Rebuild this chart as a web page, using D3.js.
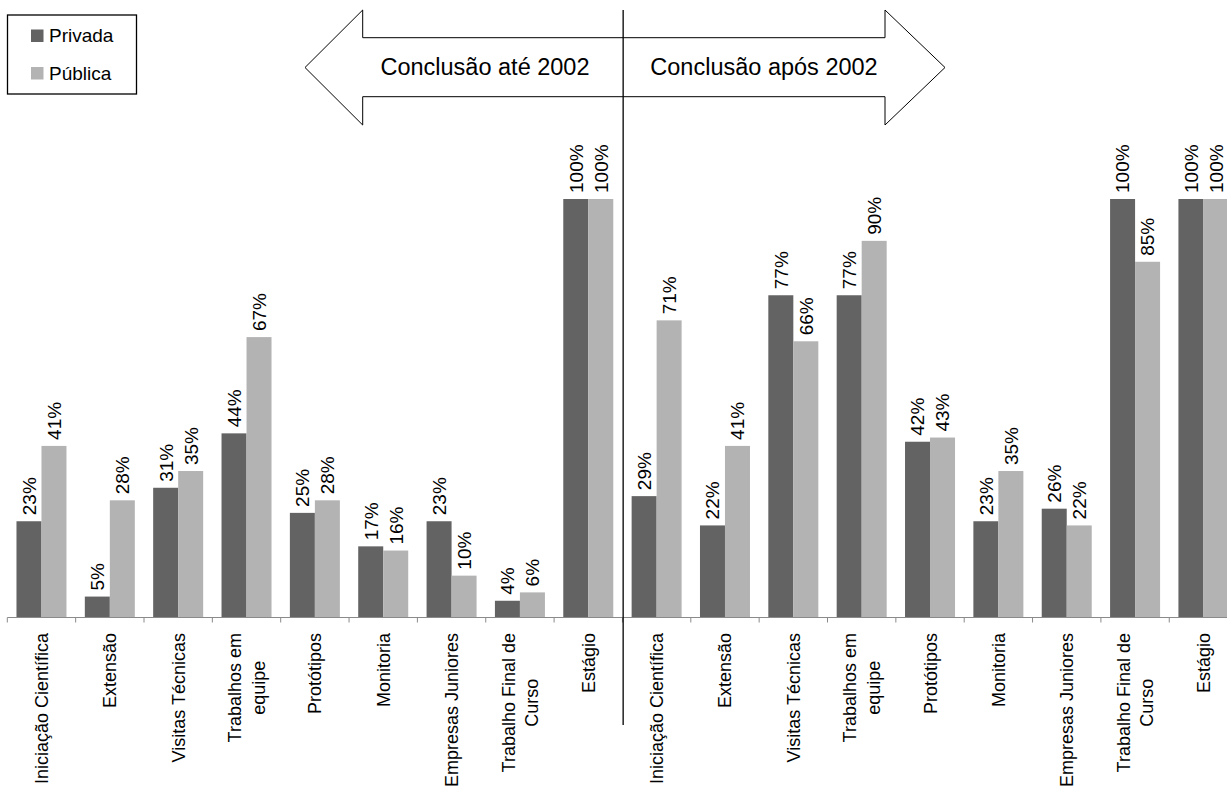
<!DOCTYPE html>
<html>
<head>
<meta charset="utf-8">
<script src="https://cdn.jsdelivr.net/npm/d3@7"></script>
<style>
  html, body { margin: 0; padding: 0; background: #fff; }
  svg { display: block; font-family: "Liberation Sans", Arial, sans-serif; }
</style>
</head>
<body>
<svg id="chart" width="1227" height="791"></svg>
<script>
// Activities surveyed (same list for both graduation periods)
const activities = [
  "Iniciação Científica", "Extensão", "Visitas Técnicas", "Trabalhos em\nequipe",
  "Protótipos", "Monitoria", "Empresas Juniores", "Trabalho Final de\nCurso", "Estágio"
];
const periods = ["Conclusão até 2002", "Conclusão após 2002"];
const seriesNames = ["Privada", "Pública"];

// Percentages per activity: first 9 = up to 2002, last 9 = after 2002
const privada = [23, 5, 31, 44, 25, 17, 23, 4, 100,   29, 22, 77, 77, 42, 23, 26, 100, 100];
const publica = [41, 28, 35, 67, 28, 16, 10, 6, 100,  71, 41, 66, 90, 43, 35, 22, 85, 100];

const colors = ["#636363", "#b3b3b3"];

// Build rows: one per (period, activity)
const rows = [];
periods.forEach((p, pi) => {
  activities.forEach((a, ai) => {
    const idx = pi * activities.length + ai;
    rows.push({ key: p + "|" + a, period: p, label: a, values: [privada[idx], publica[idx]] });
  });
});

const svg = d3.select("#chart");

// Layout
const x0 = 7.3, step = 68.35;
const baseY = 617.5, topY = 199;
const padInner = 18.35 / step;

const x = d3.scaleBand()
  .domain(rows.map(d => d.key))
  .range([x0, x0 + step * rows.length])
  .paddingInner(padInner)
  .paddingOuter(padInner / 2);

const xSeries = d3.scaleBand()
  .domain(seriesNames)
  .range([0, x.bandwidth()]);

const y = d3.scaleLinear().domain([0, 100]).range([baseY, topY]);

// Bars
const groups = svg.append("g").selectAll("g")
  .data(rows).join("g")
  .attr("transform", d => `translate(${x(d.key)},0)`);

groups.selectAll("rect")
  .data(d => d.values.map((v, i) => ({ v, s: seriesNames[i], i })))
  .join("rect")
  .attr("x", d => xSeries(d.s))
  .attr("width", xSeries.bandwidth())
  .attr("y", d => y(d.v))
  .attr("height", d => baseY - y(d.v))
  .attr("fill", d => colors[d.i]);

// Value labels, rotated above each bar
groups.selectAll("text.val")
  .data(d => d.values.map((v, i) => ({ v, s: seriesNames[i] })))
  .join("text")
  .attr("class", "val")
  .attr("transform", d => `translate(${xSeries(d.s) + xSeries.bandwidth() / 2},${y(d.v) - 6}) rotate(-90)`)
  .attr("text-anchor", "start")
  .attr("dy", "0.36em")
  .attr("font-size", 19)
  .attr("fill", "#000")
  .text(d => d.v + "%");

// Category axis: baseline + boundary ticks
const axisG = svg.append("g");
axisG.append("line")
  .attr("x1", x0).attr("x2", 1227)
  .attr("y1", baseY).attr("y2", baseY)
  .attr("stroke", "#8a8a8a").attr("stroke-width", 1);
d3.range(rows.length + 1).forEach(i => {
  const tx = x0 + i * step;
  axisG.append("line")
    .attr("x1", tx).attr("x2", tx)
    .attr("y1", baseY).attr("y2", baseY + 5)
    .attr("stroke", "#8a8a8a").attr("stroke-width", 1);
});

// Category labels, rotated, possibly two lines, block top-aligned under axis
const labelTop = 633, lineH = 23.8;
rows.forEach(d => {
  const cx = x(d.key) + x.bandwidth() / 2;
  const lines = d.label.split("\n");
  const g = axisG.append("g");
  const texts = lines.map(t => g.append("text")
    .attr("font-size", 18).attr("fill", "#000")
    .attr("text-anchor", "middle").attr("dy", "0.36em")
    .text(t));
  const maxLen = d3.max(texts, t => t.node().getComputedTextLength());
  const cy = labelTop + maxLen / 2;
  texts.forEach((t, i) => {
    const lx = cx + (i - (lines.length - 1) / 2) * lineH;
    t.attr("transform", `translate(${lx},${cy}) rotate(-90)`);
  });
});

// Period header: double-headed arrow with divider
const arrow = { left: 305, right: 945, headL: 362.7, headR: 885, top: 10, bottom: 125, shaftTop: 37.7, shaftBot: 96.7 };
const midY = (arrow.top + arrow.bottom) / 2;
const arrowPts = [
  [arrow.left, midY], [arrow.headL, arrow.top], [arrow.headL, arrow.shaftTop],
  [arrow.headR, arrow.shaftTop], [arrow.headR, arrow.top], [arrow.right, midY],
  [arrow.headR, arrow.bottom], [arrow.headR, arrow.shaftBot], [arrow.headL, arrow.shaftBot],
  [arrow.headL, arrow.bottom]
];
svg.append("polygon")
  .attr("points", arrowPts.map(p => p.join(",")).join(" "))
  .attr("fill", "#fff").attr("stroke", "#000").attr("stroke-width", 1);

const divX = x0 + step * activities.length + 0.7;
svg.append("line")
  .attr("x1", divX).attr("x2", divX)
  .attr("y1", 10).attr("y2", 725)
  .attr("stroke", "#000").attr("stroke-width", 1.3);

svg.append("text").attr("x", 485).attr("y", 75)
  .attr("text-anchor", "middle").attr("font-size", 23.5).attr("fill", "#000")
  .text(periods[0]);
svg.append("text").attr("x", 764).attr("y", 75)
  .attr("text-anchor", "middle").attr("font-size", 23.5).attr("fill", "#000")
  .text(periods[1]);

// Legend
const legend = svg.append("g");
legend.append("rect")
  .attr("x", 7.5).attr("y", 15).attr("width", 129).attr("height", 79)
  .attr("fill", "#fff").attr("stroke", "#000").attr("stroke-width", 1.3);
seriesNames.forEach((s, i) => {
  const ly = 29.5 + i * 37.5;
  legend.append("rect").attr("x", 31).attr("y", ly).attr("width", 12.5).attr("height", 12.5)
    .attr("fill", colors[i]);
  legend.append("text").attr("x", 49).attr("y", ly + 12.5)
    .attr("font-size", 19).attr("fill", "#000").text(s);
});
</script>
</body>
</html>
